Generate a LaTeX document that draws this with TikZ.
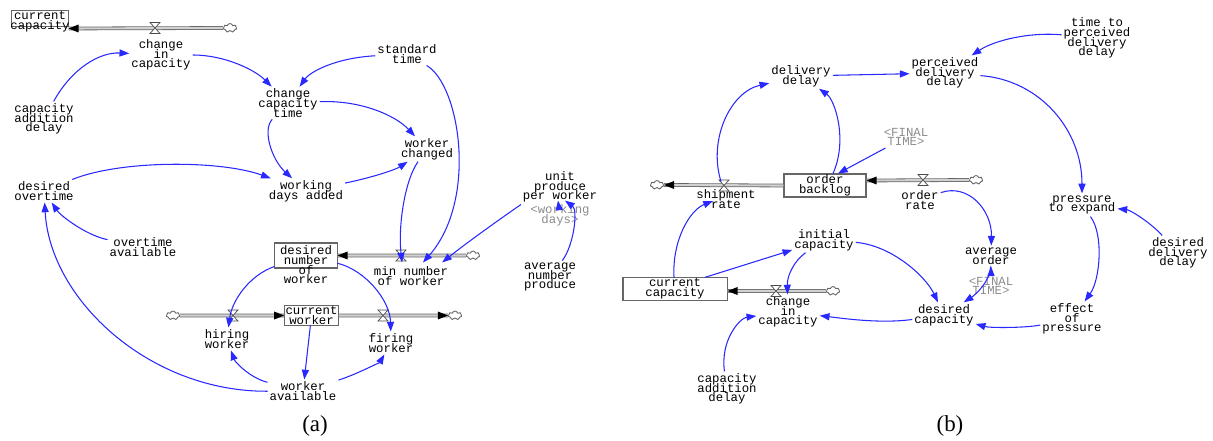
\documentclass[tikz,border=0pt]{standalone}
\usepackage{fontspec}
\setmainfont{Liberation Serif}
\newfontfamily\vmono{Liberation Mono}
\newcommand\vmsize{\vmono\fontsize{7}{5.5}\selectfont\lineskiplimit-20pt\relax}
\usetikzlibrary{arrows.meta,shapes.symbols,calc}
\definecolor{linkblue}{RGB}{40,40,255}
\tikzset{
 lbl/.style={font=\vmsize, align=center, inner sep=1pt},
 shadowlbl/.style={lbl, text=black!45},
 stock/.style={lbl, draw=black!60, line width=0.6pt, inner sep=0.5pt},
 link/.style={draw=linkblue, line width=0.6pt, -{Triangle[length=5.5pt,width=4pt]}},
 pipe/.style={draw=black!60, double=black!18, double distance=1.2pt, line width=0.45pt},
 cloudnode/.style={cloud, cloud puffs=7, draw=black!60, line width=0.5pt, fill=white, minimum width=7.5pt, minimum height=5pt, inner sep=0pt, aspect=1.5},
 pics/valvepic/.style={code={\draw[draw=black!70, fill=white, line width=0.4pt] (-5,-5.5)--(5,-5.5)--(-5,5.5)--(5,5.5)--cycle;}},
 caption/.style={font=\fontsize{13}{15}\selectfont, inner sep=0pt}
}
\begin{document}
\begin{tikzpicture}[x=0.567pt,y=-0.567pt]
\useasboundingbox (0,0) rectangle (1213,441);

% ================= (a) =================
% stocks
\node[stock, minimum width=31.8pt, minimum height=9.6pt] (lcc) at (40,18.5) {};
\node[lbl] (lcct) at (40,21.5) {current\\capacity};
\node[stock, minimum width=35.2pt, minimum height=14.2pt] (dnw) at (306,255.5) {};
\node[lbl] (dnwt) at (306,265) {desired\\number\\of\\worker};
\node[stock, minimum width=28.9pt, minimum height=10.2pt] (cw) at (311.5,315.5) {current\\worker};

% auxiliaries
\node[lbl] (cic) at (161,55) {change\\in\\capacity};
\node[lbl] (cad) at (44,119) {capacity\\addition\\delay};
\node[lbl] (cct) at (288,103) {change\\capacity\\time};
\node[lbl] (st) at (407,54) {standard\\time};
\node[lbl] (wc) at (427,149) {worker\\changed};
\node[lbl] (wda) at (306,191) {working\\days added};
\node[lbl] (do) at (44,191) {desired\\overtime};
\node[lbl] (oa) at (143,247) {overtime\\available};
\node[lbl] (mnw) at (411,276) {min number\\of worker};
\node[lbl] (hw) at (227,339) {hiring\\worker};
\node[lbl] (fw) at (391,343) {firing\\worker};
\node[lbl] (wa) at (303,391) {worker\\available};
\node[lbl] (upw) at (560,187) {unit\\produce\\per worker};
\node[shadowlbl] (wdays) at (560,215) {<working\\days>};
\node[lbl] (avgp) at (550,277) {average\\number\\produce};

% clouds
\node[cloudnode] (lcl) at (230,28) {};
\node[cloudnode] (dcl) at (473,255.5) {};
\node[cloudnode] (ccl1) at (173,315.5) {};
\node[cloudnode] (ccl2) at (455,315.5) {};

% pipes
\coordinate (lcctip) at ($(lcc.south east)+(0,1)$);
\draw[pipe] (lcl.west) -- (lcctip);
\fill (lcctip) -- ++(10,-4) -- ++(0,8) -- cycle;
\pic at (155,28) {valvepic};

\draw[pipe] (dcl.west) -- (dnw.east);
\fill (dnw.east) -- ++(10,-4) -- ++(0,8) -- cycle;
\pic at (401,255.5) {valvepic};

\draw[pipe] (ccl1.east) -- (cw.west);
\fill (cw.west) -- ++(-10,-4) -- ++(0,8) -- cycle;
\pic at (233,315.5) {valvepic};

\draw[pipe] (cw.east) -- (ccl2.west);
\fill (ccl2.west) -- ++(-10,-4) -- ++(0,8) -- cycle;
\pic at (383,315.5) {valvepic};

% links
\draw[link] (cad) .. controls (72,68) and (100,52) .. (cic);
\draw[link] (cic) .. controls (225,55) and (255,70) .. (cct);
\draw[link] (st) .. controls (335,58) and (310,72) .. (cct);
\draw[link] (cct) .. controls (360,100) and (395,115) .. (wc);
\draw[link] (cct) .. controls (262,130) and (272,160) .. (wda);
\draw[link] (wda) .. controls (370,178) and (395,170) .. (wc);
\draw[link] (st) .. controls (460,85) and (478,200) .. ($(mnw.north)+(12,-2)$);
\draw[link] (wc) .. controls (405,180) and (398,225) .. ($(mnw.north)+(-9,-2)$);
\draw[link] (upw) .. controls (520,205) and (470,240) .. ($(mnw.north east)+(-8,-2)$);
\draw[link] (avgp) .. controls (574,245) and (578,210) .. ($(upw.south)+(5,-4)$);
\draw[link] (wdays) -- ($(upw.south)+(-2,-4)$);
\draw[link] (dnw) .. controls (250,275) and (232,300) .. (hw);
\draw[link] (dnw) .. controls (365,270) and (390,300) .. (fw);
\draw[link] (cw) -- (wa);
\draw[link] (wa) .. controls (250,378) and (235,362) .. (hw);
\draw[link] (wa) .. controls (355,375) and (380,362) .. (fw);
\draw[link] (wa) .. controls (150,392) and (50,300) .. (do);
\draw[link] (oa) .. controls (85,235) and (60,215) .. (do);
\draw[link] (do) .. controls (120,160) and (220,160) .. (wda);

\node[caption] (capa) at (315,426) {(a)};

% ================= (b) =================
\node[stock, minimum width=46.5pt, minimum height=12.5pt] (ob) at (825,185.5) {order\\backlog};
\node[stock, minimum width=59pt, minimum height=11.9pt] (rcc) at (675,289) {current\\capacity};

\node[lbl] (dd) at (801,76) {delivery\\delay};
\node[lbl] (pdd) at (945,73) {perceived\\delivery\\delay};
\node[lbl] (tpdd) at (1097,38) {time to\\perceived\\delivery\\delay};
\node[lbl] (pte) at (1082,205) {pressure\\to expand};
\node[lbl] (ddd) at (1178,253) {desired\\delivery\\delay};
\node[lbl] (eop) at (1072,319) {effect\\of\\pressure};
\node[lbl] (dc) at (944,315) {desired\\capacity};
\node[lbl] (ao) at (991,256) {average\\order};
\node[shadowlbl] (ft2) at (991,286) {<FINAL\\TIME>};
\node[lbl] (orate) at (920,200) {order\\rate};
\node[lbl] (sr) at (726,199) {shipment\\rate};
\node[shadowlbl] (ft1) at (906,137) {<FINAL\\TIME>};
\node[lbl] (ic) at (824,240) {initial\\capacity};
\node[lbl] (ric) at (788,312) {change\\in\\capacity};
\node[lbl] (rcad) at (727,389) {capacity\\addition\\delay};

\node[cloudnode] (ocl) at (976,180) {};
\node[cloudnode] (scl) at (657,185) {};
\node[cloudnode] (rccl) at (833,291) {};

\coordinate (obin) at ($(ob.east)+(0,-5)$);
\draw[pipe] (ocl.west) -- (obin);
\fill (obin) -- ++(10,-4) -- ++(0,8) -- cycle;
\pic at (923,180) {valvepic};

\draw[pipe] (ob.west) -- (scl.east);
\fill (scl.east) -- ++(10,-4) -- ++(0,8) -- cycle;
\coordinate (srv) at (724,185.5);
\pic at (srv) {valvepic};

\coordinate (rccin) at ($(rcc.east)+(0,2)$);
\draw[pipe] (rccl.west) -- (rccin);
\fill (rccin) -- ++(10,-4) -- ++(0,8) -- cycle;
\pic at (776,291) {valvepic};

\draw[link] ($(srv)+(-3,-4)$) .. controls (708,140) and (730,92) .. (dd);
\draw[link] ($(ob.north)+(8,0)$) .. controls (848,140) and (835,100) .. (dd);
\draw[link] (ft1) -- ($(ob.north)+(13,0)$);
\draw[link] (dd) -- (pdd);
\draw[link] (tpdd) .. controls (1030,32) and (995,40) .. (pdd);
\draw[link] (pdd) .. controls (1040,80) and (1082,130) .. (pte);
\draw[link] (ddd) .. controls (1150,222) and (1130,210) .. (pte);
\draw[link] (pte) .. controls (1104,235) and (1100,280) .. (eop);
\draw[link] (eop) .. controls (1025,328) and (990,328) .. (dc);
\draw[link] (orate) .. controls (968,183) and (992,210) .. (ao);
\draw[link] (ft2) -- (ao);
\draw[link] (ao) .. controls (990,282) and (975,295) .. (dc);
\draw[link] ($(rcc.north)+(-1,0)$) .. controls (672,240) and (690,210) .. ($(sr.center)+(-13,2)$);
\draw[link] ($(rcc.north)+(30,0)$) -- (ic);
\draw[link] (ic) .. controls (795,260) and (787,275) .. (ric);
\draw[link] (ic) .. controls (890,245) and (925,275) .. (dc);
\draw[link] (dc) .. controls (880,324) and (840,318) .. (ric);
\draw[link] (rcad) .. controls (720,340) and (740,318) .. (ric);

\node[caption] (capb) at (950,426) {(b)};
\end{tikzpicture}
\end{document}
